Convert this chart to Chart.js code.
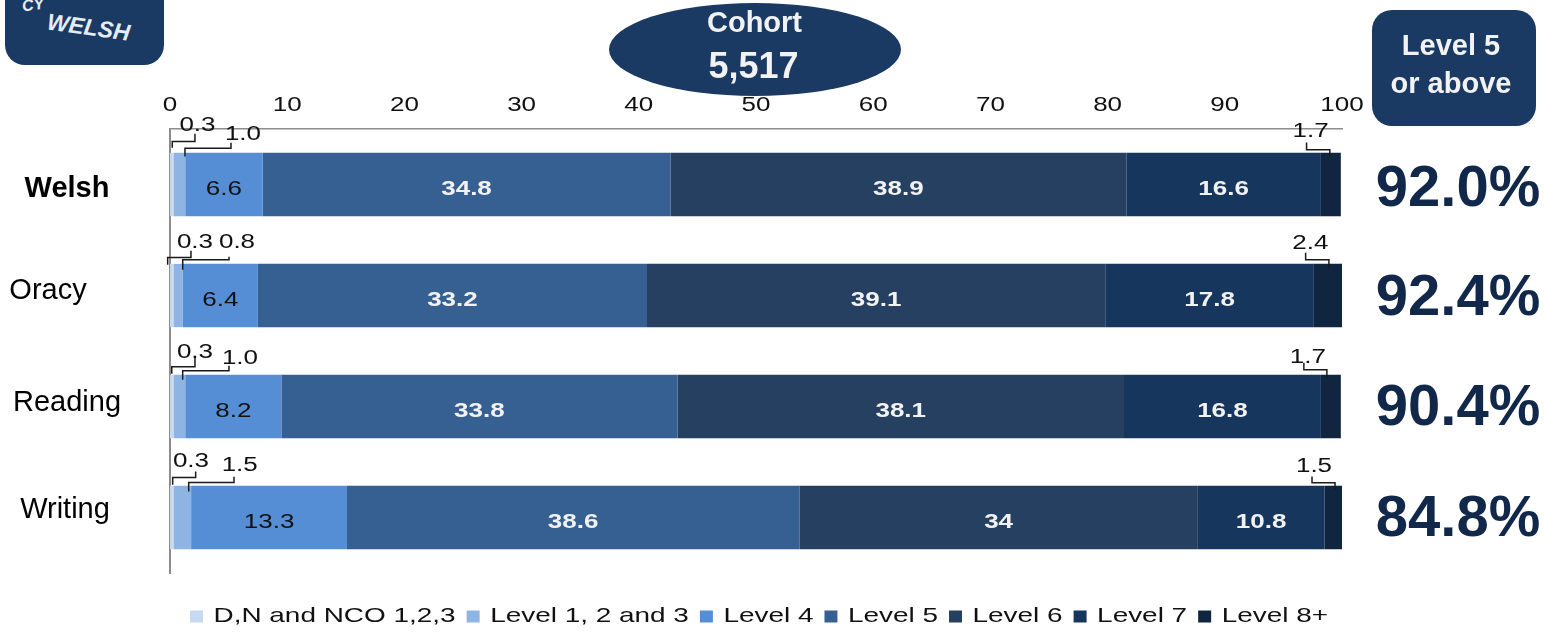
<!DOCTYPE html>
<html>
<head>
<meta charset="utf-8">
<style>
html,body{margin:0;padding:0;background:#fff;width:1545px;height:632px;overflow:hidden;font-family:"Liberation Sans",Arial,sans-serif}
#wrap{position:relative;width:1545px;height:632px;overflow:hidden}
canvas{position:absolute;left:0;top:0}
.logo{position:absolute;left:5px;top:-45px;width:159px;height:110px;background:#1a3a63;border-radius:20px;overflow:hidden;color:#e6ecf3;font-style:italic;font-weight:bold}
.logo .w{position:absolute;left:42px;top:59px;font-size:23px;transform:rotate(8deg);letter-spacing:0}
.logo .c{position:absolute;left:17px;top:41px;font-size:16px;transform:rotate(-8deg)}
.oval{position:absolute;left:609px;top:3px;width:292px;height:93px;border-radius:50%;background:#1a3a63;color:#f2f2f2;font-weight:bold;text-align:center}
.oval .a{position:absolute;left:-1px;right:0;top:2px;font-size:29px;line-height:34px}
.oval .b{position:absolute;left:0;right:3px;top:42px;font-size:36px;line-height:42px}
.box{position:absolute;left:1372px;top:10px;width:164px;height:116px;border-radius:20px;background:#1a3a63;color:#f2f2f2;font-weight:bold;text-align:center;font-size:29px;line-height:38px}
.box div{position:relative;top:16px;left:-3px}
</style>
</head>
<body>
<div id="wrap">
<canvas id="c" width="1545" height="632"></canvas>
<div class="logo"><span class="c">CY</span><span class="w">WELSH</span></div>
<div class="oval"><div class="a">Cohort</div><div class="b">5,517</div></div>
<div class="box"><div>Level 5<br>or above</div></div>
</div>
<script src="https://cdn.jsdelivr.net/npm/chart.js@4"></script>
<script>
const categories = ["Welsh","Oracy","Reading","Writing"];
const levels = ["D,N and NCO 1,2,3","Level 1, 2 and 3","Level 4","Level 5","Level 6","Level 7","Level 8+"];
const dnNco  = [0.3,0.3,0.3,0.3];
const level123 = [1.0,0.8,1.0,1.5];
const level4 = [6.6,6.4,8.2,13.3];
const level5 = [34.8,33.2,33.8,38.6];
const level6 = [38.9,39.1,38.1,34];
const level7 = [16.6,17.8,16.8,10.8];
const level8 = [1.7,2.4,1.7,1.5];
const level5Above = ["92.0%","92.4%","90.4%","84.8%"];
const valueText = [
  ["0.3","1.0","6.6","34.8","38.9","16.6","1.7"],
  ["0.3","0.8","6.4","33.2","39.1","17.8","2.4"],
  ["0.3","1.0","8.2","33.8","38.1","16.8","1.7"],
  ["0.3","1.5","13.3","38.6","34","10.8","1.5"]
];
const allSeries = [dnNco,level123,level4,level5,level6,level7,level8];
const colours = ["#C6D9F1","#8EB4E3","#558ED5","#376092","#254061","#17365D","#10253F"];

/* styling: leader-line offsets relative to each small segment [category, series, labelDx, labelDy, startDx, startDy, elbowDy, endDx, endDy] */
const leaders = [
  [0,0,25.7,-29,0.5,-5,-11.3,23.2,-19],
  [0,1,63.6,-20.3,5.6,3.7,-4.7,51.6,-10],
  [0,6,-20.3,-23,-24.3,-10.3,-3,-1,3.7],
  [1,0,23.2,-23,-4.1,1,-6.3,19.2,-13],
  [1,1,58.8,-23,4.5,6,-4,50.8,-7],
  [1,6,-17.5,-22.3,-22.3,-11,-4,1,3.7],
  [2,0,23.2,-24,0,-1,-8,23.2,-19],
  [2,1,60.6,-18,3.3,5,-4,49.6,-9],
  [2,6,-23,-19.3,-27,-12,-5,-4,2.7],
  [3,0,19.2,-26,0.9,-1,-8.3,23.9,-14.3],
  [3,1,57.4,-22,6.4,5.7,-3.3,51.7,-9],
  [3,6,-19.2,-21,-21.2,-9.3,-3,1.8,4]
];
const catLabelX = [67,48,67,65];
const catLabelDy = [4.25,-4.75,-3.75,-7.75];
const pctDy = [5,3,2,2];

/* the reference's small text is horizontally stretched */
function stretchText(ctx){
  const fill = ctx.fillText.bind(ctx), measure = ctx.measureText.bind(ctx);
  const factor = () => /\b21px/.test(ctx.font) ? 1.33 : /\b20px/.test(ctx.font) ? 1.3 : 1;
  ctx.fillText = (t,x,y) => {
    const k = factor();
    ctx.save(); ctx.translate(x,y); ctx.scale(k,1); fill(t,0,0); ctx.restore();
  };
  ctx.measureText = t => ({width: measure(t).width*factor()});
}

const annotate = {
  id:'annotate',
  beforeInit(chart){ stretchText(chart.ctx); },
  afterLayout(chart){
    const lg = chart.legend;
    if(lg){ lg.top += 22; lg.bottom += 22; lg.left += 3; lg.right += 3; }
  },
  afterDatasetsDraw(chart){
    const ctx = chart.ctx, xs = chart.scales.x, ys = chart.scales.y;
    ctx.save();
    ctx.textBaseline='middle'; ctx.textAlign='center';
    const meta = i => chart.getDatasetMeta(i).data;
    const centre = (c,s)=>{
      let cum=0; for(let i=0;i<s;i++) cum+=allSeries[i][c];
      return xs.getPixelForValue(cum+allSeries[s][c]/2);
    };
    categories.forEach((_,c)=>{
      for(let s=2;s<=5;s++){
        ctx.font=(s===2?'':'bold ')+'20px "Liberation Sans"';
        ctx.fillStyle=s===2?'#111':'#f2f2f2';
        ctx.fillText(valueText[c][s],centre(c,s),ys.getPixelForValue(c)+5);
      }
    });
    ctx.font='20px "Liberation Sans"';
    ctx.lineWidth=1.5; ctx.strokeStyle='#1a1a1a';
    leaders.forEach(([c,s,lx,ly,sx,sy,ey,tx,ty])=>{
      const cx=centre(c,s), b=meta(s)[c], top=b.y-b.height/2;
      ctx.beginPath();
      ctx.moveTo(cx+sx,top+sy);
      ctx.lineTo(cx+sx,top+ey);
      ctx.lineTo(cx+tx,top+ey);
      ctx.lineTo(cx+tx,top+ty);
      ctx.stroke();
      ctx.fillStyle='#111';
      ctx.fillText(valueText[c][s],cx+lx,top+ly+2);
    });
    categories.forEach((name,c)=>{
      const y=ys.getPixelForValue(c);
      ctx.fillStyle='#000';
      ctx.font=(c===0?'bold ':'')+'29px "Liberation Sans"';
      ctx.fillText(name,catLabelX[c],y+catLabelDy[c]);
      ctx.fillStyle='#12284a';
      ctx.font='bold 58px "Liberation Sans"';
      ctx.fillText(level5Above[c],1458,y+pctDy[c]);
    });
    ctx.restore();
  }
};

new Chart(document.getElementById('c'),{
  type:'bar',
  plugins:[annotate],
  data:{
    labels:categories,
    datasets:levels.map((name,i)=>({
      label:name,
      data:allSeries[i],
      backgroundColor:colours[i],
      borderWidth:0,
      barPercentage:0.57,
      categoryPercentage:1
    }))
  },
  options:{
    indexAxis:'y',
    responsive:false,
    animation:false,
    layout:{padding:{left:170,right:203,top:0,bottom:17}},
    scales:{
      x:{
        position:'top',stacked:true,min:0,max:100,
        afterFit(s){s.height=129;},
        grid:{display:false,drawTicks:false},
        border:{display:true,color:'#8c8c8c',width:1.5},
        ticks:{stepSize:10,padding:12,maxRotation:0,autoSkip:false,color:'#111',font:{family:'"Liberation Sans"',size:20}}
      },
      y:{
        stacked:true,
        grid:{display:false,drawTicks:false},
        border:{display:true,color:'#8c8c8c',width:2},
        ticks:{display:false}
      }
    },
    plugins:{
      tooltip:{enabled:false},
      legend:{
        position:'bottom',
        labels:{boxWidth:13,boxHeight:12,padding:11,color:'#111',font:{family:'"Liberation Sans"',size:21}}
      }
    }
  }
});
</script>
</body>
</html>
